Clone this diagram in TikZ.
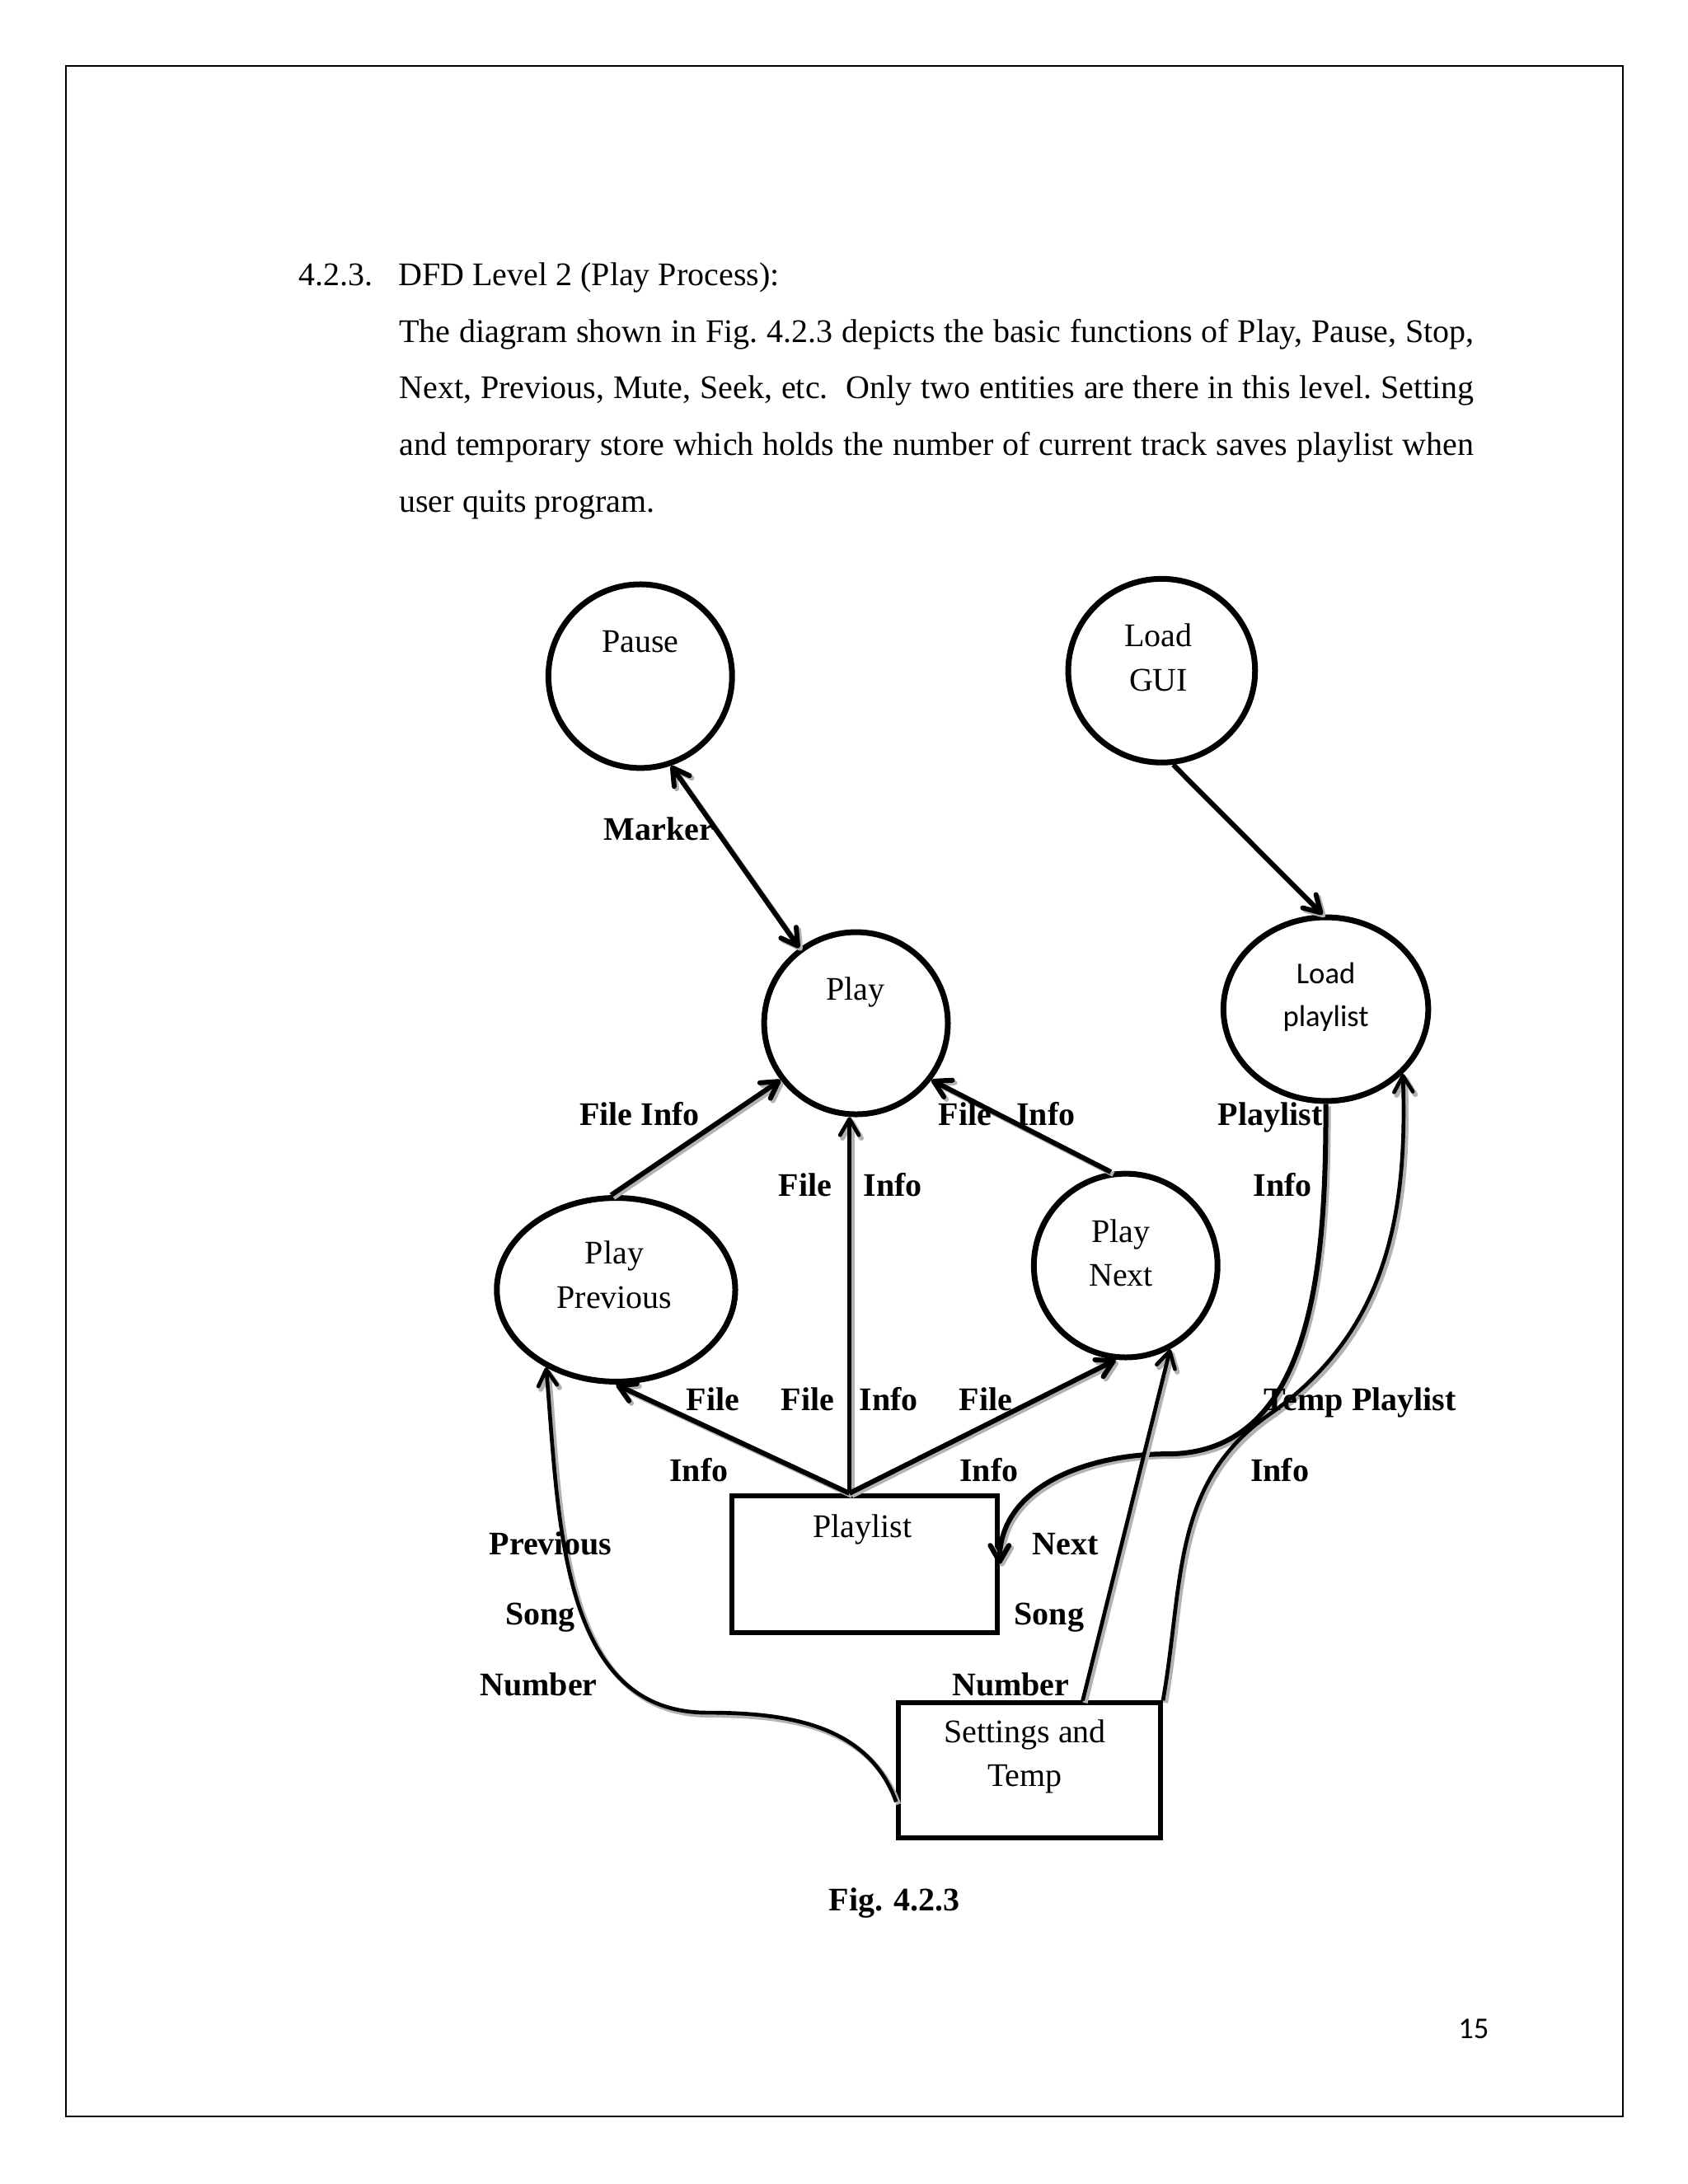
\documentclass[tikz,border=0pt]{standalone}
\usepackage{fontspec}
\setmainfont{Liberation Serif}
\newfontfamily\calibri{Carlito}
\usetikzlibrary{shapes.geometric}
\usetikzlibrary{arrows.meta}
\tolerance=9999

\begin{document}
\begin{tikzpicture}
		[proc/.style={ellipse, draw=black, line width=2.1pt, inner sep=0pt},
		store/.style={rectangle, draw=black, line width=1.8pt, inner sep=0pt},
		txt/.style={align=center, inner sep=0pt, font=\fontsize{12}{16}\selectfont},
		lbl/.style={inner sep=0pt, text height=8pt, text depth=2pt, font=\fontsize{12}{14}\selectfont\bfseries},
		flow/.style={line width=1.8pt, preaction={draw=black!30, line width=1.8pt, transform canvas={shift={(0.9pt,-0.9pt)}}}},
		thinflow/.style={flow, line width=1.4pt},
		>={Straight Barb[angle=60:2.4mm, round]}]
		\fill[white] (0,0) rectangle (21.59,-27.94);
		\useasboundingbox (0,0) rectangle (21.59,-27.94);
		\draw[line width=0.6pt] (0.84,-0.84) rectangle (20.76,-27.08);

		% heading and text
		\node[anchor=base west, inner sep=0pt, font=\fontsize{12}{14}\selectfont] (secno) at (3.81,-3.652) {4.2.3.};
		\node[anchor=base west, inner sep=0pt, font=\fontsize{12}{14}\selectfont] (sectitle) at (5.09,-3.652) {DFD Level 2 (Play Process):};
		\node[anchor=base west, inner sep=0pt, text width=13.75cm, align=justify,
			font=\fontsize{12}{20.6}\selectfont\frenchspacing] (para) at (5.10,-4.376)
			{The diagram shown in Fig. 4.2.3 depicts the basic functions of Play, Pause, Stop,\linebreak
			Next, Previous, Mute, Seek, etc.\ \ Only two entities are there in this level. Setting\linebreak
			and temporary store which holds the number of current track saves playlist when\linebreak
			user quits program.};

		% processes and stores
		\node[proc, minimum width=2.35cm, minimum height=2.35cm] (pause) at (8.19,-8.65) {};
		\node[proc, minimum width=2.39cm, minimum height=2.35cm] (gui) at (14.86,-8.58) {};
		\node[proc, minimum width=2.35cm, minimum height=2.33cm] (play) at (10.95,-13.09) {};
		\node[proc, minimum width=2.62cm, minimum height=2.35cm] (loadpl) at (16.96,-12.91) {};
		\node[proc, minimum width=3.05cm, minimum height=2.35cm] (prev) at (7.88,-16.50) {};
		\node[proc, minimum width=2.35cm, minimum height=2.35cm] (next) at (14.40,-16.19) {};
		\node[store, minimum width=3.39cm, minimum height=1.75cm] (plist) at (11.06,-20.01) {};
		\node[store, minimum width=3.35cm, minimum height=1.73cm] (settings) at (13.17,-22.65) {};

		\node[txt, text height=8pt, text depth=2pt] (pauset) at (8.19,-8.24) {Pause};
		\node[txt] (guit) at (14.82,-8.41) {Load\\GUI};
		\node[txt, text height=8pt, text depth=2pt] (playt) at (10.94,-12.69) {Play};
		\node[txt, font=\calibri\fontsize{11}{15.6}\selectfont] (loadplt) at (16.96,-12.75) {Load\\playlist};
		\node[txt] (prevt) at (7.86,-16.31) {Play\\Previous};
		\node[txt] (nextt) at (14.34,-16.03) {Play\\Next};
		\node[txt, text height=8pt, text depth=2pt] (plistt) at (11.03,-19.56) {Playlist};
		\node[txt] (settingst) at (13.11,-22.47) {Settings and\\Temp};

		% flows
		\coordinate (apex) at (plist.north -| play.-94);
		\coordinate (bendA) at (14.93,-18.60);
		\coordinate (bendB) at (16.23,-18.10);
		\coordinate (bendC) at (9.05,-21.91);

		\draw[flow, <->] (pause.-71) -- (play.127);
		\draw[flow, ->] (gui.-83) -- (loadpl.92);
		\draw[flow, ->] (prev.93) -- (play.217);
		\draw[flow, ->] (next.99) -- (play.-37);
		\draw[thinflow, ->] (apex) -- (play.-94);
		\draw[flow, ->] (apex) -- (prev.-90);
		\draw[flow, ->] (apex) -- (next.-96);
		\draw[flow, ->] (loadpl.south) to[out=-90, in=0] (bendA) to[out=180, in=90] (plist.east);
		\draw[thinflow, ->] (settings.north east) to[out=80, in=215] (bendB) to[out=35, in=-88] (loadpl.-40);
		\draw[thinflow, ->] ([xshift=0.68cm]settings.north) -- (next.-62);
		\draw[thinflow, ->] ([yshift=-0.4cm]settings.west) to[out=110, in=0] (bendC) to[out=180, in=-85] (prev.228);

		% flow labels
		\node[lbl] (marker) at (8.43,-10.64) {Marker};
		\node[lbl] (fi1) at (8.18,-14.29) {File Info};
		\node[lbl] (fi2) at (12.88,-14.29) {File\ \ \ Info};
		\node[lbl] (f3) at (10.30,-15.20) {File};
		\node[lbl] (i3) at (11.42,-15.20) {Info};
		\node[lbl] (pli) at (16.25,-14.29) {Playlist};
		\node[lbl] (pli2) at (16.41,-15.20) {Info};
		\node[lbl] (f4) at (9.12,-17.94) {File};
		\node[lbl] (i4) at (8.94,-18.85) {Info};
		\node[lbl] (f5) at (10.33,-17.94) {File};
		\node[lbl] (i5) at (11.37,-17.94) {Info};
		\node[lbl] (f6) at (12.61,-17.94) {File};
		\node[lbl] (i6) at (12.65,-18.85) {Info};
		\node[lbl] (tpl) at (17.40,-17.94) {Temp Playlist};
		\node[lbl] (tpl2) at (16.37,-18.85) {Info};
		\node[lbl] (psn1) at (7.04,-19.78) {Previous};
		\node[lbl] (psn2) at (6.91,-20.68) {Song};
		\node[lbl] (psn3) at (6.89,-21.59) {Number};
		\node[lbl] (nsn1) at (13.63,-19.78) {Next};
		\node[lbl] (nsn2) at (13.42,-20.68) {Song};
		\node[lbl] (nsn3) at (12.93,-21.59) {Number};

		\node[lbl] (fig) at (11.44,-24.34) {Fig. 4.2.3};
		\node[inner sep=0pt, font=\calibri\fontsize{11}{13}\selectfont] (pgno) at (18.85,-25.96) {15};
	\end{tikzpicture}
\end{document}
